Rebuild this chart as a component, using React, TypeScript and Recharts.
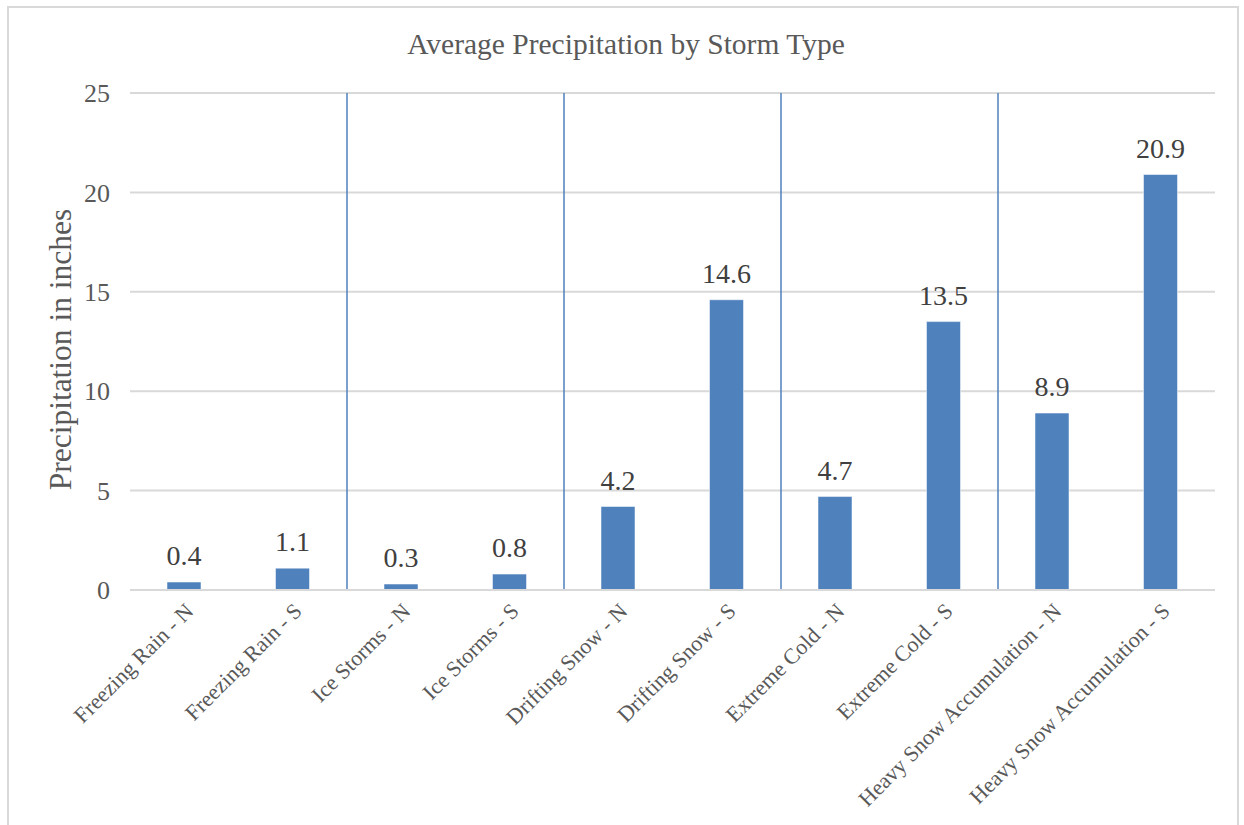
import React from "react";
import {
  BarChart,
  Bar,
  XAxis,
  YAxis,
  CartesianGrid,
  LabelList,
  ReferenceLine,
} from "recharts";

const categories = [
  "Freezing Rain - N",
  "Freezing Rain - S",
  "Ice Storms - N",
  "Ice Storms - S",
  "Drifting Snow - N",
  "Drifting Snow - S",
  "Extreme Cold - N",
  "Extreme Cold - S",
  "Heavy Snow Accumulation - N",
  "Heavy Snow Accumulation - S",
];
const precipitation = [0.4, 1.1, 0.3, 0.8, 4.2, 14.6, 4.7, 13.5, 8.9, 20.9];
const yTicks = [0, 5, 10, 15, 20, 25];
// a separator sits before each of these categories (start of a new storm type)
const groupStarts = [2, 4, 6, 8];

const data = categories.map((name, i) => ({ name, value: precipitation[i] }));

const FONT = "'Liberation Serif', 'Times New Roman', serif";
const BLUE = "#4f81bd";

function RotatedTick(props: any) {
  const { x, y, payload } = props;
  return (
    <g transform={`translate(${x + 5},${y + 9})`}>
      <text
        transform="rotate(-45)"
        textAnchor="end"
        dy="0.35em"
        fontFamily={FONT}
        style={{ fontFamily: FONT }}
        fontSize={22}
        fill="#595959"
      >
        {payload.value}
      </text>
    </g>
  );
}

function DataLabel(props: any) {
  const { x, y, width, value } = props;
  return (
    <text
      x={x + width / 2}
      y={y - 17}
      textAnchor="middle"
      fontFamily={FONT}
      style={{ fontFamily: FONT }}
      fontSize={28}
      fill="#404040"
    >
      {Number(value).toFixed(1)}
    </text>
  );
}

function YLabel(props: any) {
  const { viewBox } = props;
  const cx = viewBox.x + 50;
  const cy = viewBox.y + viewBox.height / 2 + 8;
  return (
    <text
      x={cx}
      y={cy}
      transform={`rotate(-90, ${cx}, ${cy})`}
      textAnchor="middle"
      dy="0.35em"
      fontFamily={FONT}
      style={{ fontFamily: FONT }}
      fontSize={31.5}
      fill="#595959"
    >
      Precipitation in inches
    </text>
  );
}

export default function App() {
  return (
    <div
      style={{
        position: "absolute",
        left: 0,
        top: 0,
        width: 1244,
        height: 825,
        background: "#fff",
        overflow: "hidden",
      }}
    >
      <div
        style={{
          position: "absolute",
          left: 7,
          top: 6,
          width: 1232,
          height: 830,
          border: "2px solid #d9d9d9",
          boxSizing: "border-box",
        }}
      />
      <div
        style={{
          position: "absolute",
          left: 0,
          top: 28,
          width: 1252,
          textAlign: "center",
          fontFamily: FONT,
          fontSize: 29.5,
          color: "#595959",
        }}
      >
        Average Precipitation by Storm Type
      </div>
      <div style={{ position: "absolute", left: 0, top: 0 }}>
        <BarChart
          width={1244}
          height={825}
          data={data}
          margin={{ top: 93, right: 29, bottom: 35, left: 10 }}
          barSize={34}
        >
          <CartesianGrid vertical={false} stroke="#d9d9d9" strokeWidth={2} />
          <XAxis
            dataKey="name"
            interval={0}
            tickLine={false}
            axisLine={{ stroke: "#d9d9d9", strokeWidth: 2 }}
            height={200}
            tick={<RotatedTick />}
          />
          <YAxis
            domain={[0, 25]}
            ticks={yTicks}
            width={120}
            axisLine={false}
            tickLine={false}
            tickMargin={14}
            tick={{ fontFamily: FONT, fontSize: 26, fill: "#595959" }}
            label={<YLabel />}
          />
          {groupStarts.map((i) => (
            <ReferenceLine
              key={i}
              x={categories[i]}
              position="start"
              stroke={BLUE}
              strokeWidth={1.5}
            />
          ))}
          <Bar
            dataKey="value"
            fill={BLUE}
            stroke="#ffffff"
            strokeWidth={0.5}
            isAnimationActive={false}
          >
            <LabelList dataKey="value" content={<DataLabel />} />
          </Bar>
        </BarChart>
      </div>
    </div>
  );
}
